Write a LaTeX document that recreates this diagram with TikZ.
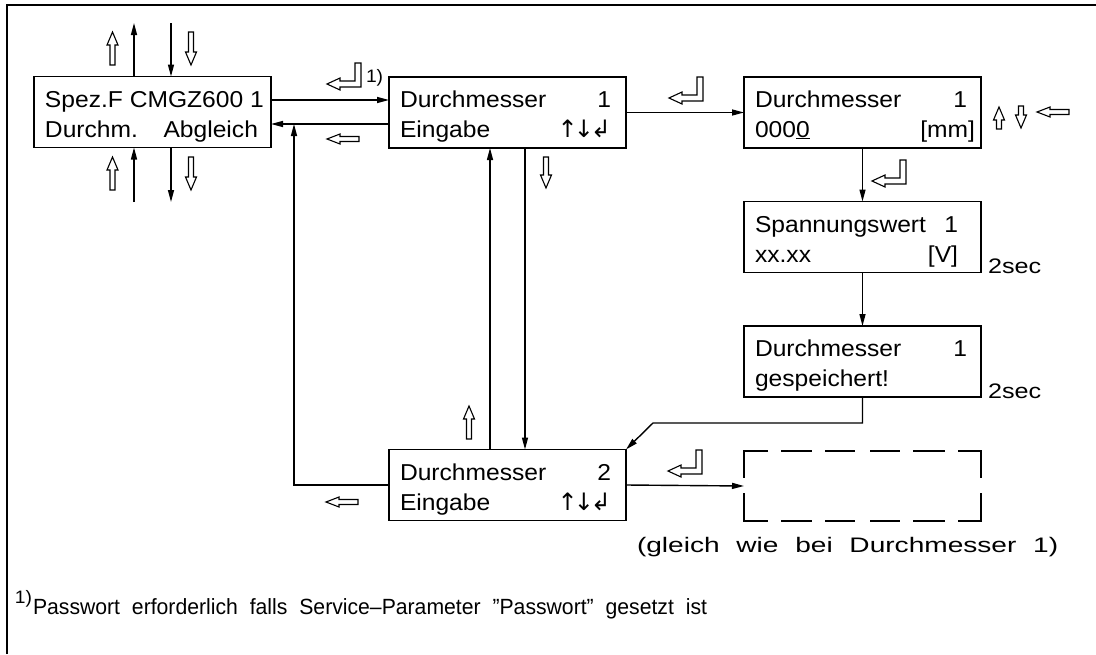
\documentclass[tikz,border=0pt]{standalone}
\usepackage{graphicx}
\usepackage{fontspec}
\setmainfont{Liberation Sans}[FakeStretch=1.07]
\newfontfamily\symfont{DejaVu Sans}
\usetikzlibrary{arrows.meta}
\newcommand{\updownret}{{\symfont\fontsize{24}{24}\selectfont ↑\kern-4pt↓\kern-3pt↲}}
\tikzset{
  hollow/.style={line width=1.1pt,line join=miter},
  pics/hup/.style={code={\draw[hollow] (0,0) -- (5.5,13) -- (2.5,13) -- (2.5,#1) -- (-2.5,#1) -- (-2.5,13) -- (-5.5,13) -- cycle;}},
  pics/hdown/.style={code={\draw[hollow] (0,0) -- (5.5,-13) -- (2.5,-13) -- (2.5,-#1) -- (-2.5,-#1) -- (-2.5,-13) -- (-5.5,-13) -- cycle;}},
  pics/hleft/.style={code={\draw[hollow] (0,0) -- (13,-5) -- (13,-2.5) -- (32,-2.5) -- (32,2.5) -- (13,2.5) -- (13,5) -- cycle;}},
  pics/hret/.style={code={\draw[hollow] (0,0) -- (13,-6) -- (13,-3) -- (28,-3) -- (28,-21) -- (34,-21) -- (34,3) -- (13,3) -- (13,6) -- cycle;}},
}
\begin{document}
\begin{tikzpicture}[x=1pt,y=-1pt,
  box/.style={draw,line width=1.6pt,minimum width=237pt,minimum height=71pt,inner sep=0pt,outer sep=0pt},
  ghost/.style={minimum width=237pt,minimum height=70pt,inner sep=0pt,outer sep=0pt},
  txt/.style={inner sep=0pt,outer sep=0pt,anchor=base west,font=\fontsize{23}{28}\selectfont},
  rtxt/.style={txt,anchor=base east},
  smalltxt/.style={inner sep=0pt,outer sep=0pt,anchor=base west,font=\fontsize{21}{25}\selectfont},
  supnote/.style={inner sep=0pt,outer sep=0pt,anchor=base west,font=\fontsize{18}{20}\selectfont},
  con/.style={line width=1.4pt},
  arr/.style={line width=1.4pt,-{Triangle[length=12pt,width=6pt]}},
  dashside/.style={line width=1.6pt}
]
\useasboundingbox (0,0) rectangle (1096,654);
% frame
\draw[line width=2pt] (6.5,654) -- (6.5,5) -- (1096,5);

% boxes
\node[box] (a) at (152.5,112) {};
\node[box] (b) at (507.5,112.5) {};
\node[box] (c) at (862.5,112.5) {};
\node[box] (d) at (862.5,237) {};
\node[box] (e) at (862.5,361.5) {};
\node[box] (f) at (507.5,485) {};
\node[ghost] (g) at (862.5,486) {};

% dashed box g
\draw[dashside] (768,451) -- (744,451) -- (744,478);
\draw[dashside] (744,493) -- (744,521) -- (768,521);
\draw[dashside] (958,451) -- (981,451) -- (981,478);
\draw[dashside] (981,493) -- (981,521) -- (958,521);
\foreach \xa/\xb in {781/812,825/855,870/900,913/945} {
  \draw[dashside] (\xa,451) -- (\xb,451);
  \draw[dashside] (\xa,521) -- (\xb,521);
}

% texts in boxes
\node[txt] (a1) at (45,107) {Spez.F CMGZ600 1};
\node[txt] (a2) at (45,137) {\makebox[213pt][s]{Durchm. Abgleich}};

\node[txt] (b1) at (400,107) {Durchmesser};
\node[rtxt] (b1r) at (611,107) {1};
\node[txt] (b2) at (400,137) {Eingabe};
\node[rtxt] (b2r) at (611,137) {\updownret};

\node[txt] (c1) at (755,107) {Durchmesser};
\node[rtxt] (c1r) at (967,107) {1};
\node[txt] (c2) at (755,137) {000\underline{0}};
\node[rtxt] (c2r) at (975,137) {[mm]};

\node[txt] (d1) at (755,232) {\makebox[203pt][s]{Spannungswert 1}};
\node[txt] (d2) at (755,262) {xx.xx};
\node[rtxt] (d2r) at (958,262) {[V]};

\node[txt] (e1) at (755,356) {Durchmesser};
\node[rtxt] (e1r) at (967,356) {1};
\node[txt] (e2) at (755,386) {gespeichert!};

\node[txt] (f1) at (400,480) {Durchmesser};
\node[rtxt] (f1r) at (611,480) {2};
\node[txt] (f2) at (400,510) {Eingabe};
\node[rtxt] (f2r) at (611,510) {\updownret};

% labels
\node[smalltxt] (t1) at (988,273) {\scalebox{1.12}[1]{2sec}};
\node[smalltxt] (t2) at (988,398) {\scalebox{1.12}[1]{2sec}};
\node[supnote] (n0) at (366,82) {1)};
\node[smalltxt] (same) at (637,552) {\scalebox{1.25}[1]{\makebox[337pt][s]{(gleich wie bei Durchmesser 1)}}};
\node[supnote] (n1) at (15,603) {1)};
\node[smalltxt,font=\fontsize{22}{26}\selectfont] (foot) at (33,614) {\scalebox{0.9}[1]{\makebox[749pt][s]{Passwort erforderlich falls Service–Parameter ”Passwort” gesetzt ist}}};

% connectors
\draw[arr] ([yshift=12pt]a.east) -- ([yshift=12pt]a.east -| b.west);
\draw[arr] ([yshift=-12pt]a.east -| b.west) -- ([yshift=-12pt]a.east);
\coordinate (j) at (294,124);
\draw[arr] (f.west) -| (j);
\draw[arr] (b.east) -- (c.west);
\draw[arr] ([xshift=-17.5pt]f.north) -- ([xshift=-17.5pt]b.south);
\draw[arr] ([xshift=17.5pt]b.south) -- ([xshift=17.5pt]f.north);
\draw[arr] (c.south) -- (d.north);
\draw[arr] (d.south) -- (e.north);
\coordinate (k) at (653,423);
\draw[arr] (e.south) |- (k) -- (f.north east);
\draw[arr] (f.east) -- (g.west);

\coordinate (at1) at (134,23);
\coordinate (at2) at (171,23);
\coordinate (ab1) at (134,202);
\coordinate (ab2) at (171,202);
\draw[arr] ([xshift=-18.5pt]a.north) -- (at1);
\draw[arr] (at2) -- ([xshift=18.5pt]a.north);
\draw[arr] (ab1) -- ([xshift=-18.5pt]a.south);
\draw[arr] ([xshift=18.5pt]a.south) -- (ab2);

% hollow key arrows
\pic at (112.5,32) {hup=33};
\pic at (191,65) {hdown=33};
\pic at (112.5,157) {hup=33};
\pic at (191,190) {hdown=33};
\pic at (327,84) {hret};
\pic at (327,139) {hleft};
\pic at (546,188) {hdown=31};
\pic at (469,406) {hup=33};
\pic at (326,502) {hleft};
\pic at (669,98) {hret};
\pic at (999,107) {hup=22};
\pic at (1021,128) {hdown=22};
\pic at (1037,112) {hleft};
\pic at (872,181) {hret};
\pic at (668,471) {hret};
\end{tikzpicture}
\end{document}
